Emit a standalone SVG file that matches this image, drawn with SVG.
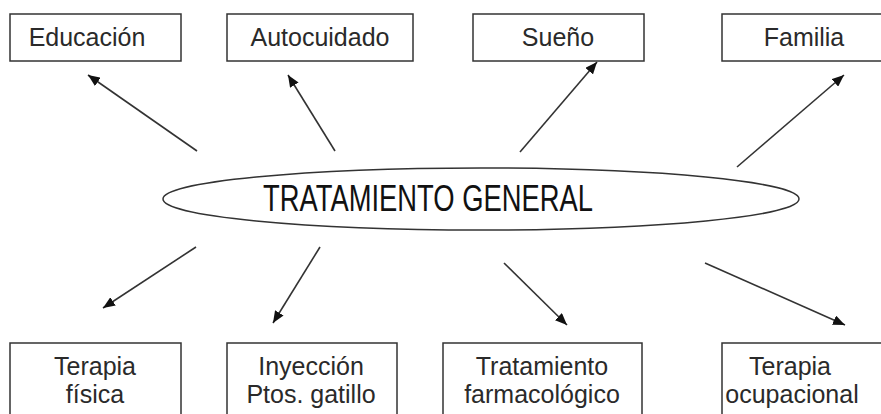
<svg xmlns="http://www.w3.org/2000/svg" width="881" height="414" viewBox="0 0 881 414">
<style>
.box{fill:#fff;stroke:#333;stroke-width:1.5}
.t{font-family:"Liberation Sans",Arial,sans-serif;font-size:25px;fill:#2a2a2a;text-anchor:middle}
.c{stroke:#333;stroke-width:1.6;fill:none;marker-end:url(#ah)}
</style>
<defs>
<marker id="ah" viewBox="0 0 12 10" refX="12" refY="5" markerWidth="12" markerHeight="10" markerUnits="userSpaceOnUse" orient="auto">
<path d="M0,0 L12,5 L0,10 Z" fill="#111"/>
</marker>
</defs>
<rect width="881" height="414" fill="#fff"/>
<g id="connectors">
<line class="c" x1="197" y1="151" x2="88" y2="75"/>
<line class="c" x1="335" y1="151" x2="288" y2="75"/>
<line class="c" x1="520" y1="152" x2="597" y2="62"/>
<line class="c" x1="737" y1="167" x2="844" y2="75"/>
<line class="c" x1="196" y1="247" x2="103" y2="308"/>
<line class="c" x1="320" y1="247" x2="273" y2="323"/>
<line class="c" x1="504" y1="263" x2="567" y2="325"/>
<line class="c" x1="705" y1="263" x2="845" y2="325"/>
</g>
<g id="center">
<ellipse cx="481" cy="199" rx="318" ry="31" fill="#fff" stroke="#333" stroke-width="1.5"/>
<text x="428" y="211" font-family="Liberation Sans,Arial,sans-serif" font-size="37" fill="#111" text-anchor="middle" textLength="330" lengthAdjust="spacingAndGlyphs">TRATAMIENTO GENERAL</text>
</g>
<g id="educacion"><rect class="box" x="10" y="14" width="171" height="47"/><text class="t" x="87" y="46">Educación</text></g>
<g id="autocuidado"><rect class="box" x="227" y="14" width="186" height="47"/><text class="t" x="320" y="46">Autocuidado</text></g>
<g id="sueno"><rect class="box" x="473" y="14" width="171" height="47"/><text class="t" x="558" y="46">Sueño</text></g>
<g id="familia"><rect class="box" x="722" y="14" width="170" height="47"/><text class="t" x="804" y="46">Familia</text></g>
<g id="terapia-fisica"><rect class="box" x="10" y="343" width="171" height="80"/><text class="t" x="95" y="375">Terapia</text><text class="t" x="95" y="403">física</text></g>
<g id="inyeccion"><rect class="box" x="227" y="343" width="170" height="80"/><text class="t" x="311" y="375">Inyección</text><text class="t" x="311" y="403">Ptos. gatillo</text></g>
<g id="tratamiento"><rect class="box" x="443" y="343" width="199" height="80"/><text class="t" x="542" y="375">Tratamiento</text><text class="t" x="542" y="403">farmacológico</text></g>
<g id="terapia-ocupacional"><rect class="box" x="722" y="343" width="170" height="80"/><text class="t" x="790" y="375">Terapia</text><text class="t" x="792" y="403">ocupacional</text></g>
</svg>
